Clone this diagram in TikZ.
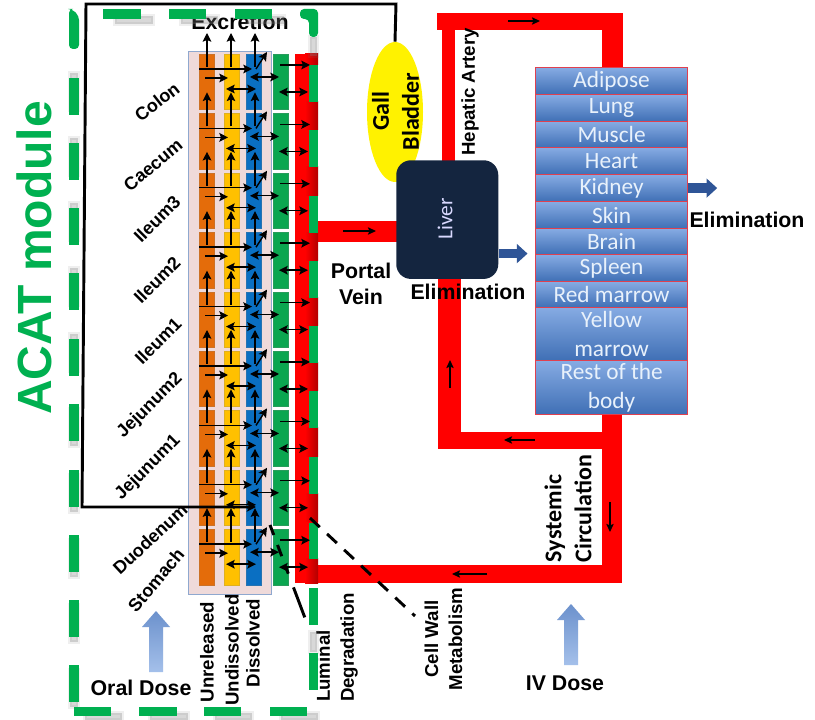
\documentclass[tikz,border=0pt]{standalone}
\usepackage{fontspec}
\setmainfont{Liberation Sans}
\newfontfamily\calib{Carlito}
\usetikzlibrary{arrows.meta,calc,shapes.geometric}
\definecolor{gr}{HTML}{00B050}
\definecolor{vessel}{HTML}{FF0000}
\definecolor{ortop}{HTML}{86ABE3}
\definecolor{orbot}{HTML}{3F6FB5}
\definecolor{orgt}{HTML}{E8F1FB}
\definecolor{darkb}{HTML}{2F5597}
\definecolor{oc}{HTML}{E46C0A}
\definecolor{yc}{HTML}{FFC000}
\definecolor{bc}{HTML}{0A6FC2}
\definecolor{gc}{HTML}{0BA650}
\definecolor{pinkbg}{HTML}{EFDADA}
\definecolor{contb}{HTML}{8FA8CF}
\definecolor{navy}{HTML}{14253F}
\definecolor{orgb}{HTML}{E0404F}
\tikzset{
 px/.style={x=0.75pt,y=-0.75pt},
 comp/.style={draw=#1!75!gray,line width=.6pt,fill=#1,anchor=north west,inner sep=0,minimum width=11pt,minimum height=41.5pt},
 flow/.style={line width=1.05pt,-{Stealth[length=6.5pt,width=6.5pt,inset=1.2pt]}},
 flowb/.style={line width=1.05pt,{Stealth[length=6.5pt,width=6.5pt,inset=1.2pt]}-{Stealth[length=6.5pt,width=6.5pt,inset=1.2pt]}},
 vflow/.style={line width=.85pt,-{Stealth[length=6pt,width=5.5pt,inset=1pt]}},
 organ/.style={draw=orgb,line width=.9pt,top color=ortop,bottom color=orbot,anchor=north west,inner sep=0,minimum width=114pt,text=orgt,font=\calib\fontsize{17.5}{22}\selectfont,align=center},
 lab/.style={font=\bfseries\fontsize{13.5}{15}\selectfont,inner sep=0},
 vlab/.style={font=\bfseries\fontsize{14}{18}\selectfont,inner sep=0,rotate=90},
 clab/.style={font=\calib\bfseries\fontsize{18}{22.5}\selectfont,inner sep=0,rotate=90},
 big/.style={font=\bfseries\fontsize{16}{20}\selectfont,inner sep=0,align=center},
 blockarrow/.style={draw=darkb,line width=7pt,-{Triangle[length=8pt,width=14pt]}},
 gdash/.style={fill=gr,draw=none},
 sdash/.style={fill=gray,fill opacity=.3,draw=gray,draw opacity=.12,line width=3pt},
 frame/.style={draw=black,line width=2.2pt,line join=miter}
}
\begin{document}
\begin{tikzpicture}[px]
\useasboundingbox (0,0) rectangle (815,720);
\fill[white] (0,0) rectangle (815,720);
% vessels
\fill[vessel] (295,54) rectangle (318,583);
\fill[vessel] (318,221) rectangle (400,242);
\fill[vessel] (318,565) rectangle (622,583);
\fill[vessel] (437,13) rectangle (623,30);
\fill[vessel] (442,13) rectangle (455,165);
\fill[vessel] (602,13) rectangle (623,70);
\fill[vessel] (438,270) rectangle (461,449);
\fill[vessel] (438,432) rectangle (602,449);
\fill[vessel] (602,410) rectangle (622,583);
\foreach \a/\b in {54/65,102/130,167/196,233/261,298/326,363/391,428/457,494/522,559/583}
  \shade[left color=vessel,right color=vessel!70!black] (305,\a) rectangle (318,\b);
% container
\node[draw=contb,line width=.9pt,fill=pinkbg,anchor=north west,inner sep=0,minimum width=62pt,minimum height=407pt] (gut) at (188,51) {};
% compartments
\foreach \i in {1,...,9}{
  \pgfmathsetmacro{\T}{54+(\i-1)*59.4}
  \node[comp=oc] (o\i) at (199,\T) {};
  \node[comp=yc] (y\i) at (224,\T) {};
  \node[comp=bc] (b\i) at (246,\T) {};
  \node[comp=gc] (g\i) at (273,\T) {};
}
% organs
\foreach \n/\t/\h/\s in {ad/67/27/Adipose,lu/94/27/Lung,mu/121/26/Muscle,he/147/27/Heart,ki/174/27/Kidney,sk/201/27/Skin,br/228/26/Brain,sp/254/27/Spleen,rm/281/26/Red marrow,ym/307/53/{Yellow\\marrow},rb/360/54/{Rest of the\\body}}
  \node[organ,minimum height=\h*.75pt] (\n) at (535,\t) {\s};
% gall bladder, liver
\node[ellipse,fill=yellow,draw=none,minimum width=42pt,minimum height=105pt,inner sep=0] (gb) at (395,112) {};
\node[clab,align=center] (gbt) at (395.5,111.5) {Gall\\Bladder};
\node[draw=none,fill=navy,rounded corners=11pt,minimum width=76.5pt,minimum height=89pt,inner sep=0,anchor=north west] (liver) at (396,160) {};
\node[rotate=90,text=white!85!blue,font=\calib\fontsize{16}{19}\selectfont,inner sep=0] (livert) at (445,219) {Liver};
% blocks
\draw[blockarrow] ([yshift=-25.5pt]liver.east) -- +(29,0);
\draw[blockarrow] (ki.east) -- +(29,0);
\foreach \X/\Y in {156/611,571/604}{
  \shade[top color=ortop!70!darkb,bottom color=ortop!75!white]
   (\X,\Y) -- (\X+14,\Y+16) -- (\X+7,\Y+16) -- (\X+7,\Y+61) -- (\X-7,\Y+61) -- (\X-7,\Y+16) -- (\X-14,\Y+16) -- cycle;
}
% texts
\node[big] (excr) at (240,22) {Excretion};
\node[lab,rotate=38] (t1) at (157,102) {Colon};
\node[lab,rotate=40] (t2) at (153,165) {Caecum};
\node[lab,rotate=45] (t3) at (157,219) {Ileum3};
\node[lab,rotate=45] (t4) at (157,280) {Ileum2};
\node[lab,rotate=45] (t5) at (158,341) {Ileum1};
\node[lab,rotate=45] (t6) at (150,406) {Jejunum2};
\node[lab,rotate=45] (t7) at (148,468) {Jejunum1};
\node[lab,rotate=43] (t8) at (150,539) {Duodenum};
\node[lab,rotate=50] (t9) at (156,580) {Stomach};
\node[font=\bfseries\fontsize{36}{40}\selectfont,text=gr,rotate=90,inner sep=0] (acat) at (34,258) {ACAT module};
\node[vlab] (t10) at (207,652) {Unreleased};
\node[vlab] (t11) at (232,650) {Undissolved};
\node[vlab] (t12) at (253,643) {Dissolved};
\node[vlab,align=left] (t13) at (337,647.5) {Luminal\\Degradation};
\node[vlab,align=center] (t14) at (443.5,639) {Cell Wall\\Metabolism};
\node[clab,align=left] (t15) at (568,508.5) {Systemic\\Circulation};
\node[vlab] (t16) at (470,92) {Hepatic Artery};
\node[big] (t17) at (141,688) {Oral Dose};
\node[big] (t18) at (565,683) {IV Dose};
\node[big] (t19) at (361,284) {Portal\\Vein};
\node[big] (t20) at (468,292) {Elimination};
\node[big] (t21) at (747,220) {Elimination};
% green dashed frame
\foreach \a/\b in {78/115,143/180,208/245,273/310,339/376}
  \filldraw[sdash] (70,\a-5) rectangle (78,\b-5);
\foreach \a/\b in {404/441,470/507,535/572,600/637,665/702}
  \filldraw[sdash] (70,\a+5) rectangle (78,\b+5);
\foreach \a/\b in {103/141,169/206,235/272}
  \filldraw[sdash] (\a+12,10+6) rectangle (\b+12,18+6);
\foreach \a/\b in {74/111,139/177,204/241,270/307}
  \filldraw[sdash] (\a+11,708+5) rectangle (\b+11,715+5);
\filldraw[sdash] (310,37) rectangle (317,56);
\filldraw[sdash] (310,632) rectangle (317,652);
\foreach \a/\b in {78/115,143/180,208/245,273/310,339/376,404/441,470/507,535/572,600/637,665/702}
  \fill[gdash] (69,\a) rectangle (79,\b);
\fill[gdash,rounded corners=3pt] (69,9) -- (72,9) -- (79,16) -- (79,49) -- (69,49) -- cycle;
\foreach \a/\b in {103/141,169/206,235/272}
  \fill[gdash] (\a,9) rectangle (\b,19);
\fill[gdash,rounded corners=3pt] (300,9) -- (318,9) -- (318,37) -- (309,37) -- (309,19) -- (300,19) -- cycle;
\foreach \a/\b in {74/111,139/177,204/241,270/307}
  \fill[gdash] (\a,707) rectangle (\b,716);
\foreach \a/\b in {65/102,130/167,196/233,261/298,326/363,391/428,457/494,523/559,588/625,653/690}
  \fill[gdash] (309,\a) rectangle (318,\b);
% exchange arrows
\foreach \i in {1,...,9}{
  \draw[flow] ([shift={(0,15)}]o\i.north west) -- ([shift={(53,15)}]o\i.north west);
  \draw[flow] ([shift={(6,24)}]o\i.north west) -- ([shift={(29,24)}]o\i.north west);
  \draw[flowb] ([shift={(2,35)}]y\i.north west) -- ([shift={(32,35)}]y\i.north west);
  \draw[flowb] ([shift={(4,23)}]b\i.north west) -- ([shift={(33,23)}]b\i.north west);
  \draw[flow] ([shift={(7,11)}]g\i.north west) -- ([shift={(37,11)}]g\i.north west);
  \draw[flowb] ([shift={(6,38)}]g\i.north west) -- ([shift={(35,38)}]g\i.north west);
  \draw[flow] ([shift={(10,15)}]b\i.north west) -- ([shift={(21,-2)}]b\i.north west);
  \draw[flow] ([shift={(8,13)}]o\i.north west) -- ([shift={(8,-21)}]o\i.north west);
  \draw[flow] ([shift={(7,13)}]y\i.north west) -- ([shift={(7,-21)}]y\i.north west);
  \draw[flow] ([shift={(9,13)}]b\i.north west) -- ([shift={(9,-21)}]b\i.north west);
}
% vessel flow arrows
\coordinate (a1) at (508,21); \coordinate (a2) at (540,21);
\coordinate (a3) at (343,231); \coordinate (a4) at (376,231);
\coordinate (a5) at (450,388); \coordinate (a6) at (450,360);
\coordinate (a7) at (535,440); \coordinate (a8) at (504,440);
\coordinate (a9) at (610,502); \coordinate (a10) at (610,532);
\coordinate (a11) at (487,574); \coordinate (a12) at (452,574);
\foreach \p/\q in {a1/a2,a3/a4,a5/a6,a7/a8,a9/a10,a11/a12}
  \draw[vflow] (\p) -- (\q);
% bile line
\coordinate (c1) at (396,4); \coordinate (c2) at (86,4); \coordinate (c3) at (82,507);
\draw[frame,-{Stealth[length=7pt,width=7pt]}] (gb.north) -- (c1) -- (c2) -- (c3) -- (b8.west |- c3) -- ++(10,0);
% dashed leader lines
\coordinate (d1) at (270,525); \coordinate (d2) at (305,618);
\coordinate (d3) at (310,518); \coordinate (d4) at (415,616);
\draw[line width=2.2pt,dash pattern=on 8pt off 8pt on 9pt off 8pt on 6pt off 11pt on 24pt off 40pt] (d1) -- (d2);
\draw[line width=2.2pt,dash pattern=on 10pt off 7.5pt] (d3) -- (d4);
\end{tikzpicture}
\end{document}
